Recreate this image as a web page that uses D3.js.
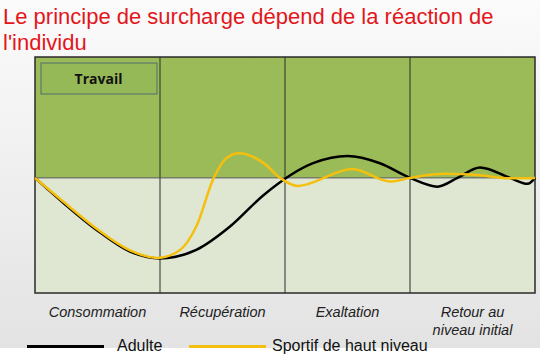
<!DOCTYPE html>
<html><head><meta charset="utf-8">
<script src="https://cdn.jsdelivr.net/npm/d3@7"></script>
<style>html,body{margin:0;padding:0;background:#fff;}svg{display:block;}</style>
</head><body>
<script>
const phases = ["Consommation", "Récupération", "Exaltation", "Retour au\nniveau initial"];
const adulteX = [0, 0.23, 0.49, 0.76, 1.0, 1.29, 1.56, 1.83, 2.23, 2.5, 2.76, 3.0, 3.22, 3.38, 3.56, 3.8, 3.94, 4.0];
const adulteY = [0, -22, -45, -64, -70, -62.6, -42.3, -14.8, 13, 19, 12.7, 0, -7.6, 0, 9, 0, -5.2, 0];
const sportifX = [0, 0.23, 0.49, 0.76, 0.98, 1.16, 1.29, 1.43, 1.53, 1.63, 1.83, 1.96, 2.1, 2.54, 2.84, 3.0, 3.28, 3.56, 3.8, 4.0];
const sportifY = [0, -21, -44, -63, -69.5, -62.6, -42.3, 0, 17.1, 21.5, 12.8, 0, -7, 7.8, -3.2, 0, 3.5, 2.2, -0.4, 0];
const seriesNames = ["Adulte", "Sportif de haut niveau"];
const zoneLabel = "Travail";
const titleLines = ["Le principe de surcharge dépend de la réaction de", "l'individu"];

const W = 540, H = 360;
const svg = d3.select("body").append("svg").attr("width", W).attr("height", H);
const defs = svg.append("defs");
const grad = defs.append("linearGradient").attr("id", "bg").attr("x1", 0).attr("y1", 0).attr("x2", 0).attr("y2", 1);
grad.append("stop").attr("offset", "0%").attr("stop-color", "#fbfbfb");
grad.append("stop").attr("offset", "100%").attr("stop-color", "#e3e3e3");
svg.append("rect").attr("width", W).attr("height", 348).attr("fill", "url(#bg)");

// title
svg.selectAll("text.title").data(titleLines).enter().append("text")
  .attr("x", 3).attr("y", (d, i) => 24 + i * 26)
  .attr("font-family", "Liberation Sans, Arial, sans-serif").attr("font-size", 22)
  .attr("fill", "#e3161b").text(d => d);

const x = d3.scaleLinear().domain([0, 4]).range([35, 535]);
const y = d3.scaleLinear().domain([-100, 105]).range([293, 57]);

const g = svg.append("g");
g.append("rect").attr("x", x(0)).attr("y", y(105)).attr("width", x(4) - x(0)).attr("height", y(0) - y(105)).attr("fill", "#9bbb59");
g.append("rect").attr("x", x(0)).attr("y", y(0)).attr("width", x(4) - x(0)).attr("height", y(-100) - y(0)).attr("fill", "#dfe7d3");

// travail box
g.append("rect").attr("x", 41).attr("y", 63).attr("width", 116).attr("height", 31)
  .attr("fill", "#96b957").attr("stroke", "#4f6f6a").attr("stroke-width", 1);
g.append("text").attr("x", 98.5).attr("y", 83.5).attr("text-anchor", "middle")
  .attr("font-family", "Open Sans, Liberation Sans, sans-serif").attr("font-weight", "bold").attr("font-size", 14)
  .attr("fill", "#111").text(zoneLabel);

// grid lines
g.selectAll("line.v").data(d3.range(1, 4)).enter().append("line")
  .attr("x1", d => x(d)).attr("x2", d => x(d)).attr("y1", y(105)).attr("y2", y(-100))
  .attr("stroke", "#2a2a2a").attr("stroke-width", 1);
g.append("line").attr("x1", x(0)).attr("x2", x(4)).attr("y1", y(0)).attr("y2", y(0)).attr("stroke", "#555").attr("stroke-width", 1);
g.append("rect").attr("x", x(0)).attr("y", y(105)).attr("width", x(4) - x(0)).attr("height", y(-100) - y(105))
  .attr("fill", "none").attr("stroke", "#2a2a2a").attr("stroke-width", 1.5);

const line = d3.line().x(d => x(d[0])).y(d => y(d[1])).curve(d3.curveMonotoneX);
g.append("path").datum(adulteX.map((v, i) => [v, adulteY[i]])).attr("d", line)
  .attr("fill", "none").attr("stroke", "#000").attr("stroke-width", 2.5);
g.append("path").datum(sportifX.map((v, i) => [v, sportifY[i]])).attr("d", line)
  .attr("fill", "none").attr("stroke", "#f5bf0f").attr("stroke-width", 2.5);

// phase labels
phases.forEach((p, i) => {
  const t = svg.append("text").attr("x", x(i + 0.5)).attr("y", 317).attr("text-anchor", "middle")
    .attr("font-family", "Liberation Sans, Arial, sans-serif").attr("font-style", "italic").attr("font-size", 14.5)
    .attr("fill", "#222");
  p.split("\n").forEach((l, j) => t.append("tspan").attr("x", x(i + 0.5)).attr("dy", j ? 18 : 0).text(l));
});

// legend
const legCols = ["#000", "#f5bf0f"];
const legX = [27, 189];
const legTX = [117, 272];
seriesNames.forEach((s, i) => {
  svg.append("line").attr("x1", legX[i]).attr("x2", legX[i] + 77).attr("y1", 346.5).attr("y2", 346.5)
    .attr("stroke", legCols[i]).attr("stroke-width", 3);
  svg.append("text").attr("x", legTX[i]).attr("y", 351)
    .attr("font-family", "Liberation Sans, Arial, sans-serif").attr("font-size", 16).attr("fill", "#111").text(s);
});
</script>
</body></html>
